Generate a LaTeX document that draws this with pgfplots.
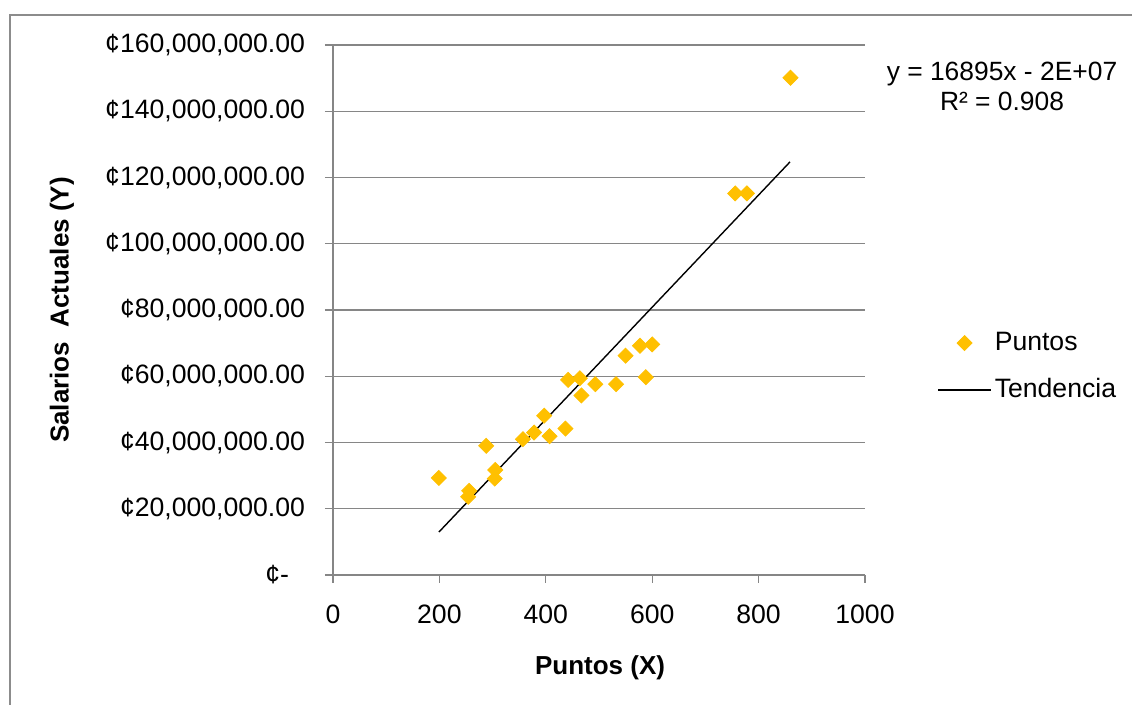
\documentclass[border=0pt]{standalone}
\usepackage{pgfplots}
\pgfplotsset{compat=1.18}
\usepackage{fontspec}
\setmainfont{Liberation Sans}
\definecolor{gridgray}{RGB}{134,134,134}
\definecolor{framegray}{RGB}{140,140,140}
\definecolor{gold}{RGB}{255,192,0}

\begin{document}
\begin{tikzpicture}
  \path[use as bounding box] (0,0) rectangle (566pt,352.5pt);
  % chart area frame (top and left edges only are visible)
  \draw[framegray, line width=1pt] (5pt,0pt) -- (5pt,345pt) -- (566pt,345pt);
  \begin{axis}[
    at={(166.5pt,65pt)}, anchor=south west,
    scale only axis, width=266pt, height=265pt,
    xmin=0, xmax=1000, ymin=0, ymax=160000000,
    axis lines=left,
    axis line style={-, gridgray, line width=0.6pt},
    xtick={0,200,400,600,800,1000},
    xticklabels={0,200,400,600,800,1000},
    ytick={0,2e7,4e7,6e7,8e7,1e8,1.2e8,1.4e8,1.6e8},
    yticklabels={¢-\rule{8pt}{0pt},{¢20,000,000.00},{¢40,000,000.00},{¢60,000,000.00},{¢80,000,000.00},{¢100,000,000.00},{¢120,000,000.00},{¢140,000,000.00},{¢160,000,000.00}},
    scaled y ticks=false,
    tick align=outside,
    major tick length=4pt,
    tick style={gridgray, line width=0.6pt},
    ymajorgrids,
    grid style={gridgray, line width=0.6pt},
    ticklabel style={font=\fontsize{13.3pt}{16pt}\selectfont},
    yticklabel style={xshift=-6.5pt},
    xticklabel style={yshift=-7.5pt},
    xlabel={Puntos (X)},
    ylabel={Salarios\ \ Actuales (Y)},
    label style={font=\bfseries\fontsize{13pt}{15pt}\selectfont},
    xlabel style={at={(axis description cs:0.502,-0.1755)}, anchor=center},
    ylabel style={at={(axis description cs:-0.5094,0.5)}, anchor=center},
    legend image code/.code={\draw[mark repeat=2, mark phase=2, #1] plot coordinates {(0pt,0pt) (13.25pt,0pt) (26.5pt,0pt)};},
    legend style={draw=none, fill=none, at={(axis description cs:1.1353,0.393)}, anchor=west,
      inner sep=0pt, row sep=12.5pt, font=\fontsize{13.3pt}{16pt}\selectfont,
      nodes={inner xsep=1.5pt, inner ysep=0pt}},
    legend cell align=left,
  ]
    \addplot[only marks, mark=square*, mark size=2.65pt, mark options={rotate=45, draw=gold, fill=gold}]
      coordinates {
        (199,29.3e6) (256,25.4e6) (254,23.6e6) (288,39.0e6) (305,31.7e6)
        (304,29.1e6) (357,41.0e6) (378,43.0e6) (397,48.1e6) (407,41.9e6)
        (437,44.2e6) (442,58.9e6) (464,59.4e6) (467,54.2e6) (493,57.6e6)
        (532,57.6e6) (550,66.2e6) (577,69.2e6) (588,59.7e6) (600,69.6e6)
        (756,115.2e6) (778,115.2e6) (860,150.1e6)
      };
    \addlegendentry{Puntos}
    \addplot[black, line width=0.7pt, mark=none]
      coordinates {(199.2,12.98e6) (859,124.7e6)};
    \addlegendentry{Tendencia}
  \end{axis}
  \node[align=center, font=\fontsize{13.2pt}{15pt}\selectfont] at (501pt,309.25pt)
    {y = 16895x - 2E+07\\R² = 0.908};
\end{tikzpicture}
\end{document}
